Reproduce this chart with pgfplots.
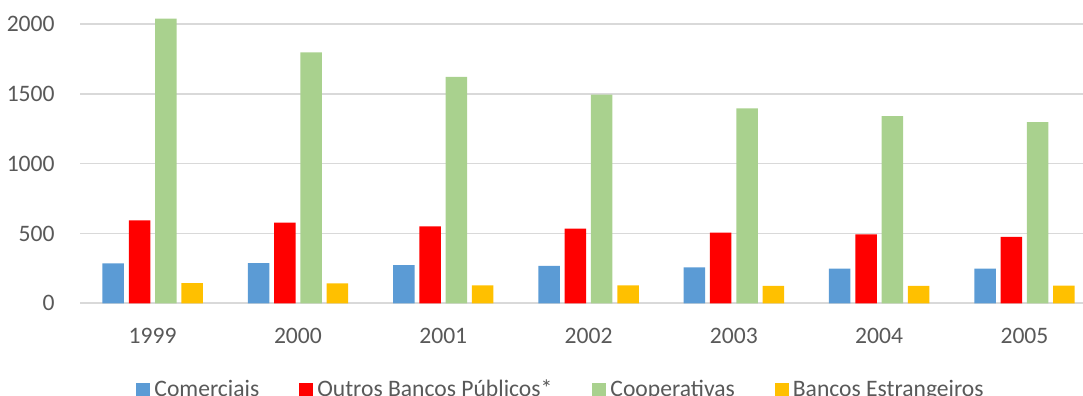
\documentclass[border=0pt]{standalone}
\usepackage{pgfplots}
\pgfplotsset{compat=1.18}
\usepackage{fontspec}
\setmainfont{Carlito}
\definecolor{cBlue}{HTML}{5B9BD5}
\definecolor{cRed}{HTML}{FF0000}
\definecolor{cGreen}{HTML}{A9D18E}
\definecolor{cYellow}{HTML}{FFC000}
\definecolor{cGrid}{HTML}{D9D9D9}
\definecolor{cText}{HTML}{595959}
\begin{document}
\begin{tikzpicture}
\begin{axis}[
  at={(40pt,46.35pt)}, anchor=south west,
  scale only axis,
  width=501.5pt, height=151.65pt,
  ybar=2.4pt, bar width=10.75pt,
  xmin=-0.5, xmax=6.403,
  ymin=0, ymax=2171,
  xtick={0,1,2,3,4,5,6},
  xticklabels={1999,2000,2001,2002,2003,2004,2005},
  ytick={0,500,1000,1500,2000},
  ymajorgrids,
  grid style={cGrid, line width=0.8pt},
  axis line style={draw=none},
  major tick length=0pt,
  tick label style={font=\fontsize{11.8}{14}\selectfont, text=cText, inner sep=0pt},
  /pgf/number format/assume math mode=true,
  /pgf/number format/1000 sep={},
  xticklabel style={anchor=north, yshift=-12pt},
  yticklabel style={anchor=east, xshift=-12.5pt},
  legend style={draw=none, at={(0.4806,-0.286)}, anchor=center,
    legend columns=-1,
    font=\fontsize{11.8}{14}\selectfont, text=cText,
    /tikz/every even column/.append style={column sep=18pt},
    inner sep=0pt, nodes={inner sep=2pt}},
  legend image code/.code={\fill[#1] (0pt,-3.5pt) rectangle (7pt,3.5pt);},
  clip=false,
]
\addplot[fill=cBlue, draw=none] coordinates {(0,286) (1,288) (2,274) (3,267) (4,258) (5,248) (6,248)};
\addplot[fill=cRed, draw=none] coordinates {(0,594) (1,577) (2,551) (3,534) (4,505) (5,494) (6,475)};
\addplot[fill=cGreen, draw=none] coordinates {(0,2037) (1,1797) (2,1620) (3,1493) (4,1396) (5,1339) (6,1296)};
\addplot[fill=cYellow, draw=none] coordinates {(0,145) (1,143) (2,129) (3,129) (4,124) (5,124) (6,126)};
\legend{Comerciais, Outros Bancos Públicos*, Cooperativas, Bancos Estrangeiros}
\end{axis}
\pgfresetboundingbox
\path[use as bounding box] (0,0) rectangle (541.5pt,198pt);
\end{tikzpicture}
\end{document}
